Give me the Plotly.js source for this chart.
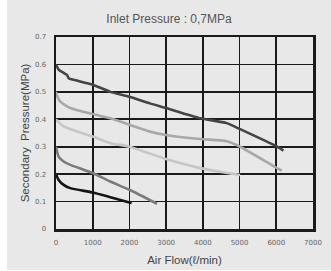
<!DOCTYPE html>
<html><head><meta charset="utf-8">
<script src="https://cdn.plot.ly/plotly-3.0.1.min.js"></script>
<style>html,body{margin:0;padding:0;background:#fff;}#c{position:absolute;left:7px;top:0;width:324px;height:270px;}</style>
</head><body><div id="c"></div>
<script>
const flow1 = [0, 72, 208, 300, 345, 480, 1000, 1480, 2000, 2560, 3000, 3924, 4650, 5014, 6013, 6195];
const pres1 = [0.600, 0.581, 0.569, 0.562, 0.550, 0.544, 0.526, 0.500, 0.482, 0.458, 0.441, 0.404, 0.386, 0.364, 0.301, 0.286];
const flow2 = [0, 36, 110, 390, 1000, 1480, 2000, 2560, 3000, 3924, 4650, 5014, 6020, 6150];
const pres2 = [0.500, 0.483, 0.465, 0.441, 0.419, 0.404, 0.380, 0.355, 0.343, 0.328, 0.320, 0.300, 0.222, 0.213];
const flow3 = [0, 208, 1000, 1480, 2000, 3000, 3924, 4500, 5014];
const pres3 = [0.400, 0.374, 0.337, 0.313, 0.300, 0.255, 0.222, 0.208, 0.197];
const flow4 = [0, 72, 208, 390, 1000, 1480, 2000, 2750];
const pres4 = [0.300, 0.264, 0.246, 0.234, 0.204, 0.173, 0.143, 0.092];
const flow5 = [0, 72, 208, 390, 1000, 1480, 2000, 2060];
const pres5 = [0.200, 0.179, 0.161, 0.149, 0.133, 0.116, 0.097, 0.095];
const xTicks = [0, 1000, 2000, 3000, 4000, 5000, 6000, 7000];
const xTickText = ['0', '1000', '2000', '3000', '4000', '5000', '6000', '7000'];
const yTicks = [0, 0.1, 0.2, 0.3, 0.4, 0.5, 0.6, 0.7];
const yTickText = ['0', '0.1', '0.2', '0.3', '0.4', '0.5', '0.6', '0.7'];

const series = [[flow1, pres1, '#444444'], [flow2, pres2, '#a8a8a8'], [flow3, pres3, '#c6c6c6'], [flow4, pres4, '#7c7c7c'], [flow5, pres5, '#151515']];
const data = series.map(s => ({x: s[0], y: s[1], mode: 'lines', line: {color: s[2], width: 2.6, shape: 'spline', smoothing: 0.6}, hoverinfo: 'skip'}));

const tickFont = {family: 'DejaVu Sans', size: 7, color: '#666'};
const layout = {
  width: 324, height: 270,
  margin: {l: 49, r: 18, t: 37, b: 41},
  paper_bgcolor: '#e8e8e8', plot_bgcolor: '#e8e8e8',
  showlegend: false,
  title: {text: 'Inlet Pressure : 0,7MPa', x: 0.5, xanchor: 'center', y: 0.932, yanchor: 'middle', font: {family: 'Liberation Sans', size: 12, color: '#555'}},
  xaxis: {range: [0, 7000], tickvals: xTicks, ticktext: xTickText, tickfont: tickFont, ticks: 'outside', ticklen: 5, tickcolor: 'rgba(0,0,0,0)',
    showgrid: true, gridcolor: '#1a1a1a', gridwidth: 1.6, zeroline: false,
    showline: true, linecolor: '#1a1a1a', linewidth: 2.5, mirror: true,
    title: {text: 'Air Flow(ℓ/min)', font: {family: 'Liberation Sans', size: 11.5, color: '#444'}, standoff: 10}, automargin: false},
  yaxis: {range: [0, 0.7], tickvals: yTicks, ticktext: yTickText, tickfont: tickFont, ticks: 'outside', ticklen: 6, tickcolor: 'rgba(0,0,0,0)',
    showgrid: true, gridcolor: '#1a1a1a', gridwidth: 1.6, zeroline: false,
    showline: true, linecolor: '#1a1a1a', linewidth: 2.5, mirror: true,
    title: {text: 'Secondary  Pressure(MPa)', font: {family: 'Liberation Sans', size: 11.5, color: '#444'}, standoff: 3}, automargin: false}
};
Plotly.newPlot('c', data, layout, {displayModeBar: false, staticPlot: true});
</script></body></html>
